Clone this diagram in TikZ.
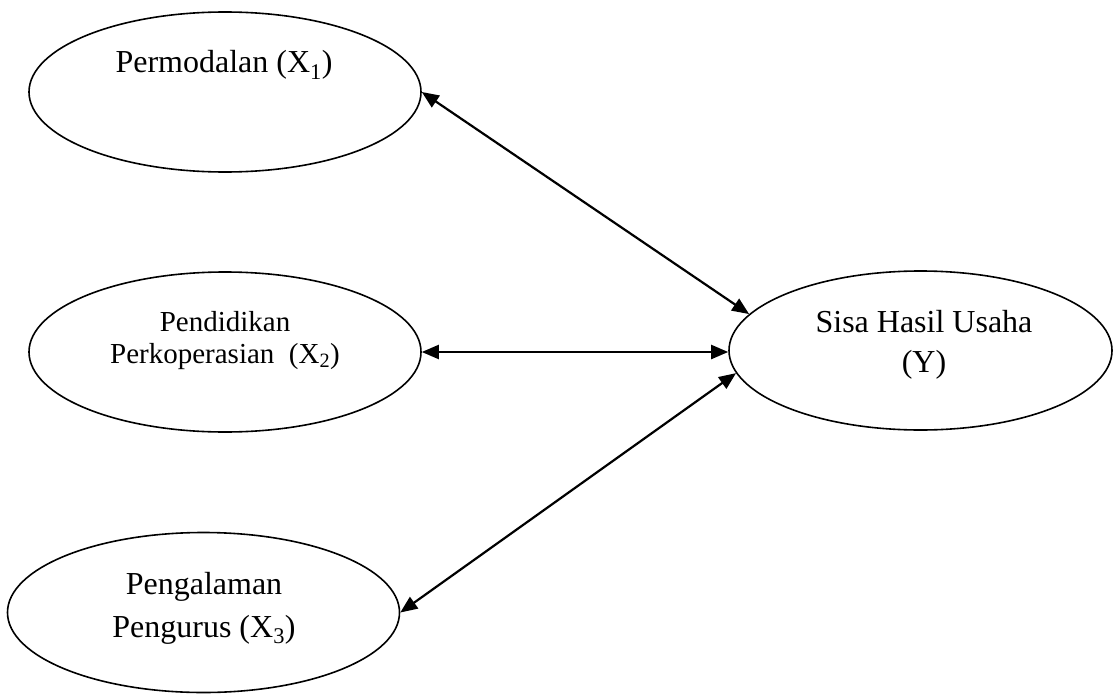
\documentclass[tikz,border=0pt]{standalone}
\usepackage{fontspec}
\setmainfont{Liberation Serif}
\usetikzlibrary{shapes.geometric,arrows.meta}
\tikzset{
  var/.style={draw=black, line width=1.6pt, ellipse, inner sep=0pt, minimum width=392pt, minimum height=160pt},
  lbl/.style={anchor=base, inner sep=0pt, font=\fontsize{32}{38}\selectfont},
  lblsmall/.style={anchor=base, inner sep=0pt, font=\fontsize{29}{35}\selectfont},
  link/.style={line width=2.2pt, {Triangle[length=17pt,width=14pt]}-{Triangle[length=17pt,width=14pt]}}
}
\begin{document}
\begin{tikzpicture}[x=1pt,y=-1pt]
\useasboundingbox (0,0) rectangle (1113,693);
\node[var] (x1) at (225,92) {};
\node[var] (x2) at (225,352) {};
\node[var] (x3) at (203.5,612.5) {};
\node[var, minimum width=383pt, minimum height=159pt] (y) at (920.5,350.5) {};
\node[lbl] (t1) at (224,73) {Permodalan (X\textsubscript{1})};
\node[lblsmall] (t2a) at (225,331) {Pendidikan};
\node[lblsmall] (t2b) at (225,363) {Perkoperasian\ \ (X\textsubscript{2})};
\node[lbl] (t3a) at (204,594) {Pengalaman};
\node[lbl] (t3b) at (204,637) {Pengurus (X\textsubscript{3})};
\node[lbl] (tya) at (924,332) {Sisa Hasil Usaha};
\node[lbl] (tyb) at (924,372) {(Y)};
\draw[link] (x1.east) -- (y.168);
\draw[link] (x2.east) -- (y.west |- x2.east);
\draw[link] (x3.east) -- (y.187);
\end{tikzpicture}
\end{document}
